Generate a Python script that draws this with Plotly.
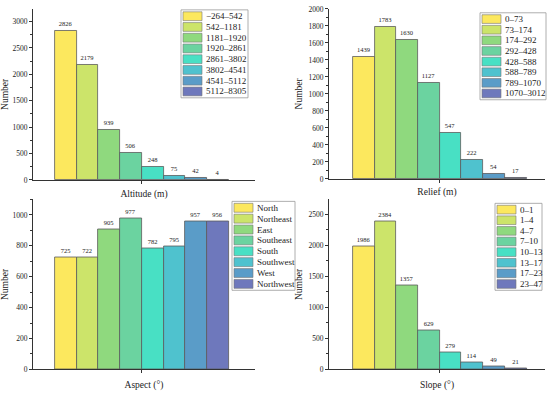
import plotly.graph_objects as go

colors = ["#FCE85E", "#CCE46A", "#8FD97E", "#6BD3A0", "#48E0C4", "#4FC2CE", "#5A9CC8", "#6E78BC"]

alt_labels = ["−264–542", "542–1181", "1181–1920", "1920–2861", "2861–3802", "3802–4541", "4541–5112", "5112–8305"]
alt_values = [2826, 2179, 939, 506, 248, 75, 42, 4]

rel_labels = ["0–73", "73–174", "174–292", "292–428", "428–588", "588–789", "789–1070", "1070–3012"]
rel_values = [1439, 1783, 1630, 1127, 547, 222, 54, 17]

asp_labels = ["North", "Northeast", "East", "Southeast", "South", "Southwest", "West", "Northwest"]
asp_values = [725, 722, 905, 977, 782, 795, 957, 956]

slo_labels = ["0–1", "1–4", "4–7", "7–10", "10–13", "13–17", "17–23", "23–47"]
slo_values = [1986, 2384, 1357, 629, 279, 114, 49, 21]

W, H = 550, 393
FONT = "Liberation Serif, Times New Roman, serif"
AX = "#333333"


def px(x):
    return x / W


def py(y):
    return 1 - y / H


panels = [
    dict(labels=alt_labels, values=alt_values, title="Altitude (m)", yrange=[0, 3240], dtick=500,
         dx=(33, 255), dy=(5, 180), xr=[-1.5, 8.7], leg=(181, 6, 248, 96), st=7),
    dict(labels=rel_labels, values=rel_values, title="Relief (m)", yrange=[0, 2000], dtick=200,
         dx=(329, 545), dy=(5, 179), xr=[-1.6, 8.35], leg=(480, 9, 546, 98), st=6),
    dict(labels=asp_labels, values=asp_values, title="Aspect (°)", yrange=[0, 1100], dtick=200,
         dx=(33, 255), dy=(200, 374), xr=[-1.5, 8.7], leg=(232, 202, 295, 293), st=8),
    dict(labels=slo_labels, values=slo_values, title="Slope (°)", yrange=[0, 2740], dtick=500,
         dx=(329, 545), dy=(200, 374), xr=[-1.6, 8.35], leg=(495, 204, 542, 293), st=8),
]

fig = go.Figure()
shapes = []
annotations = []
layout = {}

for i, p in enumerate(panels):
    n = i + 1
    xa = "x" if n == 1 else f"x{n}"
    ya = "y" if n == 1 else f"y{n}"
    xkey = "xaxis" if n == 1 else f"xaxis{n}"
    ykey = "yaxis" if n == 1 else f"yaxis{n}"
    fig.add_trace(go.Bar(
        x=list(range(len(p["values"]))), y=p["values"], width=1,
        marker=dict(color=colors, line=dict(color="#5a5a5a", width=0.8)),
        text=[str(v) for v in p["values"]], textposition="outside",
        textfont=dict(family=FONT, size=6.5, color="#222222"),
        cliponaxis=False, showlegend=False, xaxis=xa, yaxis=ya,
        hovertext=p["labels"],
    ))
    center = (len(p["values"]) - 1) / 2
    layout[xkey] = dict(
        domain=[px(p["dx"][0]), px(p["dx"][1])], range=p["xr"], anchor=ya,
        showline=True, linecolor=AX, linewidth=1, showgrid=False, zeroline=False,
        tickvals=[center], ticktext=[""], ticks="outside", ticklen=3, tickcolor=AX,
        showticklabels=False,
        title=dict(text=p["title"], font=dict(family=FONT, size=9.5, color="#222222"), standoff=p["st"]),
    )
    layout[ykey] = dict(
        domain=[py(p["dy"][1]), py(p["dy"][0])], range=p["yrange"], anchor=xa,
        showline=True, linecolor=AX, linewidth=1, showgrid=False, zeroline=False,
        dtick=p["dtick"], ticks="outside", ticklen=3, tickcolor=AX,
        minor=dict(ticks="outside", ticklen=2, dtick=p["dtick"] / 2, tickcolor=AX),
        tickfont=dict(family=FONT, size=7.5, color="#222222"),
        title=dict(text="Number", font=dict(family=FONT, size=9.5, color="#222222"), standoff=4),
    )
    # legend box
    x0, y0, x1, y1 = p["leg"]
    shapes.append(dict(type="rect", xref="paper", yref="paper", x0=px(x0), x1=px(x1),
                       y0=py(y1), y1=py(y0), line=dict(color="#999999", width=0.8),
                       fillcolor="white", layer="above"))
    pitch = (y1 - y0 - 2) / len(p["labels"])
    for k, lab in enumerate(p["labels"]):
        sy0 = y0 + 1 + k * pitch + 1
        sy1 = y0 + 1 + (k + 1) * pitch - 1
        shapes.append(dict(type="rect", xref="paper", yref="paper", x0=px(x0 + 2), x1=px(x0 + 21),
                           y0=py(sy1), y1=py(sy0), line=dict(color="#777777", width=0.6),
                           fillcolor=colors[k], layer="above"))
        annotations.append(dict(x=px(x0 + 23), y=py((sy0 + sy1) / 2), xref="paper", yref="paper",
                                text=lab, showarrow=False, xanchor="left", yanchor="middle",
                                font=dict(family=FONT, size=9, color="#222222")))

fig.update_layout(
    width=W, height=H, margin=dict(l=0, r=0, t=0, b=0),
    paper_bgcolor="white", plot_bgcolor="white",
    font=dict(family=FONT, color="#222222"),
    shapes=shapes, annotations=annotations, bargap=0,
    **layout,
)

fig.write_html("out.html", config={"displayModeBar": False},
               post_script="document.body.style.margin='0';document.body.style.overflow='hidden';")
